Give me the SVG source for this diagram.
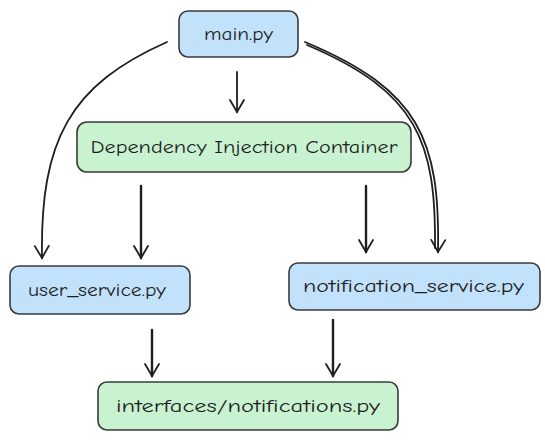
<svg xmlns="http://www.w3.org/2000/svg" width="545" height="442" viewBox="0 0 545 442">
<style>
.blue{fill:#c2e1fb;stroke:#3a3a3a;stroke-width:1.6}
.green{fill:#c9f2d1;stroke:#3a3a3a;stroke-width:1.6}
.t{font-family:"Comic Neue","Liberation Sans",sans-serif;font-size:18px;fill:#1e1e1e;text-anchor:middle;dominant-baseline:central}
.c{fill:none;stroke:#1e1e1e;stroke-width:1.8;stroke-linecap:round}
.v{stroke-width:2.4}
</style>
<defs>
<marker id="ah2" viewBox="0 0 20 20" refX="18" refY="10" markerWidth="20" markerHeight="20" markerUnits="userSpaceOnUse" orient="auto">
<path d="M6 3 L18 10 L6 17" fill="none" stroke="#1e1e1e" stroke-width="1.8" stroke-linecap="round"/>
</marker>
</defs>
<g id="connectors">
<path class="c" marker-end="url(#ah2)" d="M167 42 C 70 85, 40 140, 42 258"/>
<path class="c" marker-end="url(#ah2)" d="M237 72 L237 112"/>
<path class="c" marker-end="url(#ah2)" d="M305 42 C 420 90, 440 140, 438 252"/>
<path class="c" d="M307 45 C 418 92, 436 142, 435 248"/>
<path class="c v" marker-end="url(#ah2)" d="M141 186 L141 258"/>
<path class="c v" marker-end="url(#ah2)" d="M366 186 L366 252"/>
<path class="c v" marker-end="url(#ah2)" d="M152 330 L152 376"/>
<path class="c v" marker-end="url(#ah2)" d="M333 320 L333 376"/>
</g>
<g id="main">
<rect class="blue" x="179" y="11" width="119" height="46" rx="9"/>
<text class="t" x="238.5" y="34" textLength="69" lengthAdjust="spacingAndGlyphs">main.py</text>
</g>
<g id="dic">
<rect class="green" x="77" y="122" width="334" height="50" rx="10"/>
<text class="t" x="244" y="147" textLength="307" lengthAdjust="spacingAndGlyphs">Dependency Injection Container</text>
</g>
<g id="user_service">
<rect class="blue" x="10" y="266" width="180" height="48" rx="9"/>
<text class="t" x="97" y="290" textLength="138" lengthAdjust="spacingAndGlyphs">user_service.py</text>
</g>
<g id="notification_service">
<rect class="blue" x="289" y="263" width="251" height="47" rx="9"/>
<text class="t" x="413.5" y="286.5" textLength="221" lengthAdjust="spacingAndGlyphs">notification_service.py</text>
</g>
<g id="interfaces">
<rect class="green" x="98" y="382" width="300" height="48" rx="9"/>
<text class="t" x="248" y="406" textLength="264" lengthAdjust="spacingAndGlyphs">interfaces/notifications.py</text>
</g>
</svg>
